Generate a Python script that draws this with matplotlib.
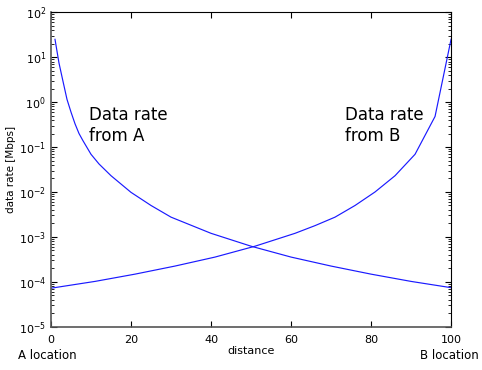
import matplotlib as mpl
import matplotlib.pyplot as plt
import numpy as np

# distance from A (x) and data rate from A [Mbps]
dist_a = [1, 2, 3, 4, 5, 6, 7, 8, 10, 12, 15, 20, 25, 30, 40, 50, 60, 70, 80, 90, 100]
rate_a = [25, 7.4, 2.9, 1.15, 0.6, 0.33, 0.2, 0.138, 0.069, 0.042, 0.023,
          0.0098, 0.0050, 0.00275, 0.0012, 0.00062, 0.000355, 0.000224,
          0.000148, 0.000102, 7.4e-5]

# data rate from B, read at the same distance axis
dist_b = [0, 11, 21, 31, 41, 51, 61, 66, 71, 76, 81, 86, 91, 96, 100]
rate_b = [7.2e-5, 0.000102, 0.000148, 0.000224, 0.000355, 0.00062, 0.0012,
          0.00178, 0.00275, 0.0050, 0.010, 0.023, 0.069, 0.48, 25]

xticks = [0, 20, 40, 60, 80, 100]

mpl.rcParams['font.family'] = ['DejaVu Sans']
mpl.rcParams['mathtext.fontset'] = 'dejavusans'

fig = plt.figure(figsize=(4.82, 3.70), dpi=100)
ax = fig.add_axes([0.1058, 0.117, 0.83, 0.8498])

ax.plot(dist_a, rate_a, color='#1a1aff', lw=0.85)
ax.plot(dist_b, rate_b, color='#1a1aff', lw=0.85)

ax.set_yscale('log')
ax.set_xlim(0, 100)
ax.set_ylim(1e-5, 1e2)
ax.set_xticks(xticks)
ax.set_yticks([10.0**k for k in range(-5, 3)])

ax.tick_params(which='both', direction='in', top=True, right=True, labelsize=8)
ax.tick_params(which='major', length=4, width=0.8)
ax.tick_params(which='minor', length=2, width=0.6)
ax.tick_params(axis='x', pad=6)

for s in ['left', 'bottom']:
    ax.spines[s].set_color('#555555')
    ax.spines[s].set_linewidth(1.2)
for s in ['top', 'right']:
    ax.spines[s].set_color('black')
    ax.spines[s].set_linewidth(0.8)

ax.set_ylabel('data rate [Mbps]', fontsize=7.5, labelpad=2)
ax.set_xlabel('distance', fontsize=8, labelpad=1)

ax.text(9.5, 10**-0.08, 'Data rate\nfrom A', fontsize=12, va='top', ha='left')
ax.text(73.5, 10**-0.08, 'Data rate\nfrom B', fontsize=12, va='top', ha='left')

fig.text(0.037, 0.03, 'A location', fontsize=8.5)
fig.text(0.872, 0.03, 'B location', fontsize=8.5)

plt.savefig('out.png', dpi=100)
